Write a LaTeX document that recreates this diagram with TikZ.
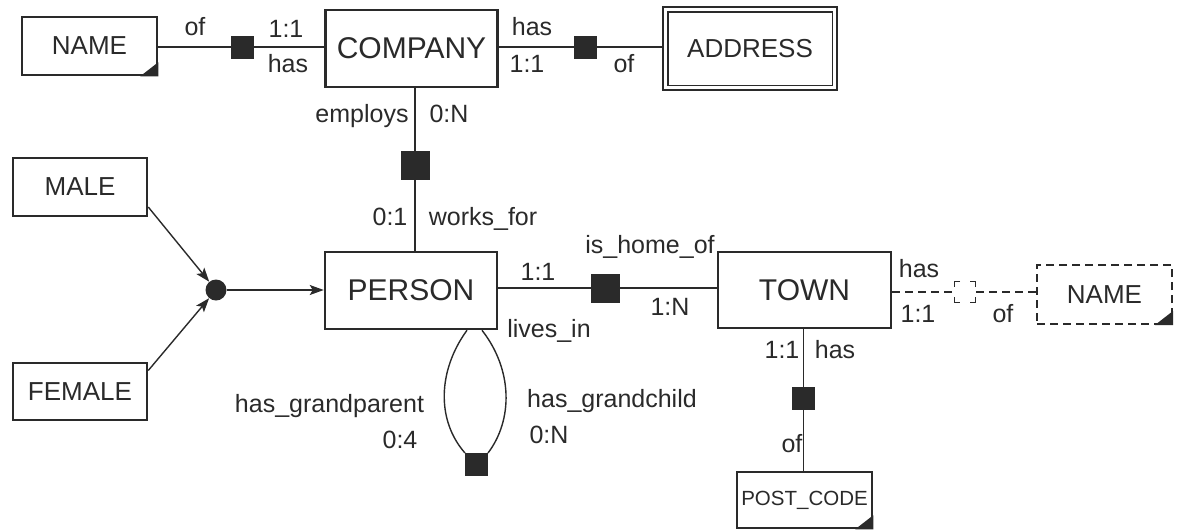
\documentclass[tikz,border=0pt]{standalone}
\usepackage{fontspec}
\setmainfont{Liberation Sans}
\usetikzlibrary{arrows.meta}
\definecolor{ink}{HTML}{2A2A2A}
\begin{document}
\begin{tikzpicture}[x=1pt,y=-1pt,
  every node/.style={text=ink},
  ent/.style={draw=ink,line width=2.5pt,fill=white,inner sep=0pt},
  bigent/.style={ent,minimum width=172pt,minimum height=77pt,font=\fontsize{30}{30}\selectfont},
  smallent/.style={ent,minimum width=134pt,minimum height=58pt,font=\fontsize{26}{26}\selectfont},
  dashent/.style={smallent,line width=2pt,dash pattern=on 8pt off 5pt},
  rel/.style={draw=ink,fill=ink,line width=1pt,minimum size=22pt,inner sep=0pt},
  bigrel/.style={rel,minimum size=28pt},
  dashrel/.style={draw=ink,fill=white,line width=1.8pt,minimum size=21pt,inner sep=0pt,dash pattern=on 11pt off 10pt,dash phase=5.5pt},
  conn/.style={draw=ink,line width=1.4pt},
  dconn/.style={draw=ink,line width=1.5pt,dash pattern=on 8pt off 5pt},
  arr/.style={conn,-{Stealth[length=14pt,width=10pt,inset=3pt]}},
  lab/.style={anchor=base,inner sep=0pt,font=\fontsize{25}{25}\selectfont},
  corner/.style={fill=ink}
]
\useasboundingbox (0,0) rectangle (1183,531);

% entities
\node[smallent,minimum width=135pt] (name1) at (89.5,46) {NAME};
\node[bigent] (company) at (411.5,48.5) {COMPANY};
\node[draw=ink,line width=1.8pt,minimum width=174pt,minimum height=83pt,inner sep=0pt,
      font=\fontsize{26}{26}\selectfont] (address) at (750,48.5) {ADDRESS};
\draw[ink,line width=1.8pt] ([shift={(5.5,5.5)}]address.north west) rectangle ([shift={(-5.5,-5.5)}]address.south east);
\node[smallent] (male) at (80,187) {MALE};
\node[smallent,minimum height=57pt] (female) at (80,391.5) {FEMALE};
\node[bigent] (person) at (411,290.5) {PERSON};
\node[bigent,minimum width=173pt,minimum height=76pt] (town) at (804.5,290) {TOWN};
\node[dashent,minimum width=135pt,minimum height=59pt] (name2) at (1104.5,294.5) {NAME};
\node[smallent,minimum width=135pt,minimum height=56pt,font=\fontsize{20.5}{20.5}\selectfont] (post) at (804.5,500) {POST\_CODE};

% corner triangles
\fill[corner] ([shift={(-18,0)}]name1.south east) -- (name1.south east) -- ([shift={(0,-14)}]name1.south east) -- cycle;
\fill[corner] ([shift={(-18,0)}]name2.south east) -- (name2.south east) -- ([shift={(0,-14)}]name2.south east) -- cycle;
\fill[corner] ([shift={(-18,0)}]post.south east) -- (post.south east) -- ([shift={(0,-14)}]post.south east) -- cycle;

% relationship squares
\node[rel] (sq1) at (242.5,47) {};
\node[rel] (sq2) at (585.5,47) {};
\node[bigrel] (sq3) at (415,165) {};
\node[bigrel] (sq4) at (605.5,288) {};
\node[dashrel] (sq5) at (965,292) {};
\node[rel] (sq6) at (803.5,398) {};
\node[rel] (sq7) at (476.5,464.5) {};
\node[circle,fill=ink,minimum size=21pt,inner sep=0pt] (dot) at (216,290) {};

% connectors
\draw[conn] (name1.east |- sq1) -- (sq1) -- (company.west |- sq1);
\draw[conn] (company.east |- sq2) -- (sq2) -- (address.west |- sq2);
\draw[conn] (sq3 |- company.south) -- (sq3) -- (sq3 |- person.north);
\draw[conn] (person.east |- sq4) -- (sq4) -- (town.west |- sq4);
\draw[dconn] (town.east |- sq5) -- (sq5) -- (name2.west |- sq5);
\draw[conn] (sq6 |- town.south) -- (sq6) -- (sq6 |- post.north);
\draw[conn] ([xshift=56pt]person.south) .. controls (438,370) and (436,420) .. (sq7.north west);
\draw[conn] ([xshift=71pt]person.south) .. controls (513,370) and (513,420) .. (sq7.north east);
\draw[arr] ([yshift=-20pt]male.east) -- (dot);
\draw[arr] ([yshift=21pt]female.east) -- (dot);
\draw[arr] (dot) -- (person.west |- dot);

% labels
\node[lab] (l1) at (195,35) {of};
\node[lab] (l2) at (286,37) {1:1};
\node[lab] (l3) at (288,72) {has};
\node[lab] (l4) at (532,35) {has};
\node[lab] (l5) at (527,72) {1:1};
\node[lab] (l6) at (624,72) {of};
\node[lab] (l7) at (362,122) {employs};
\node[lab] (l8) at (449,122) {0:N};
\node[lab] (l9) at (390,225) {0:1};
\node[lab] (l10) at (483,225) {works\_for};
\node[lab] (l11) at (650,253) {is\_home\_of};
\node[lab] (l12) at (538,280) {1:1};
\node[lab] (l13) at (670,315) {1:N};
\node[lab] (l14) at (549,337) {lives\_in};
\node[lab] (l15) at (919,277) {has};
\node[lab] (l16) at (918,322) {1:1};
\node[lab] (l17) at (1003,322) {of};
\node[lab] (l18) at (782,358) {1:1};
\node[lab] (l19) at (835,358) {has};
\node[lab] (l20) at (792,452) {of};
\node[lab] (l21) at (329.5,412) {has\_grandparent};
\node[lab] (l22) at (400,448) {0:4};
\node[lab] (l23) at (612,407) {has\_grandchild};
\node[lab] (l24) at (549,443) {0:N};
\end{tikzpicture}
\end{document}
